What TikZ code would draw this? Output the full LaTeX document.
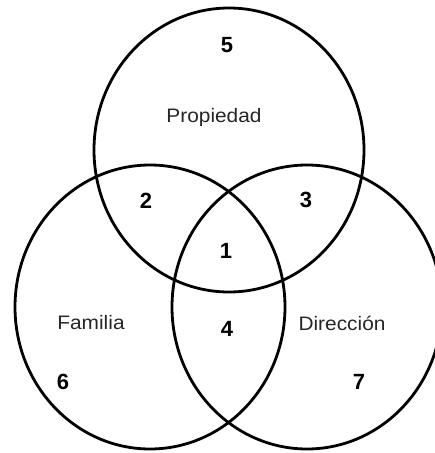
\documentclass[tikz,border=0pt]{standalone}
\usepackage{fontspec}
\setmainfont{Liberation Sans}
\usetikzlibrary{shapes.geometric}
\tikzset{
  setring/.style={ellipse, draw=black, line width=2.8pt, inner sep=0pt, outer sep=0pt,
                  minimum width=270pt, minimum height=284pt},
  setname/.style={inner sep=0pt, text=black!85, font=\fontsize{19.5}{20}\selectfont, xscale=1.07},
  region/.style={inner sep=0pt, text=black, font=\fontsize{22}{23}\selectfont\bfseries}
}
\begin{document}
\begin{tikzpicture}[x=1pt, y=-1pt]
\useasboundingbox (0,0) rectangle (435,453);
\fill[white] (0,0) rectangle (435,453);
\begin{scope}
\clip (0,0) rectangle (435,453);
\node[setring] (prop) at (229,150) {};
\node[setring] (fam) at (150,307) {};
\node[setring] (dir) at (307,307) {};
\end{scope}
\node[setname] (lprop) at (214,117) {Propiedad};
\node[setname] (lfam) at (91,323) {Familia};
\node[setname] (ldir) at (342,323) {Dirección};
\node[region] (r5) at (227,45) {5};
\node[region] (r2) at (146,201) {2};
\node[region] (r3) at (306,200) {3};
\node[region] (r1) at (226,251) {1};
\node[region] (r4) at (227,329) {4};
\node[region] (r6) at (63,382) {6};
\node[region] (r7) at (359,382) {7};
\end{tikzpicture}
\end{document}
